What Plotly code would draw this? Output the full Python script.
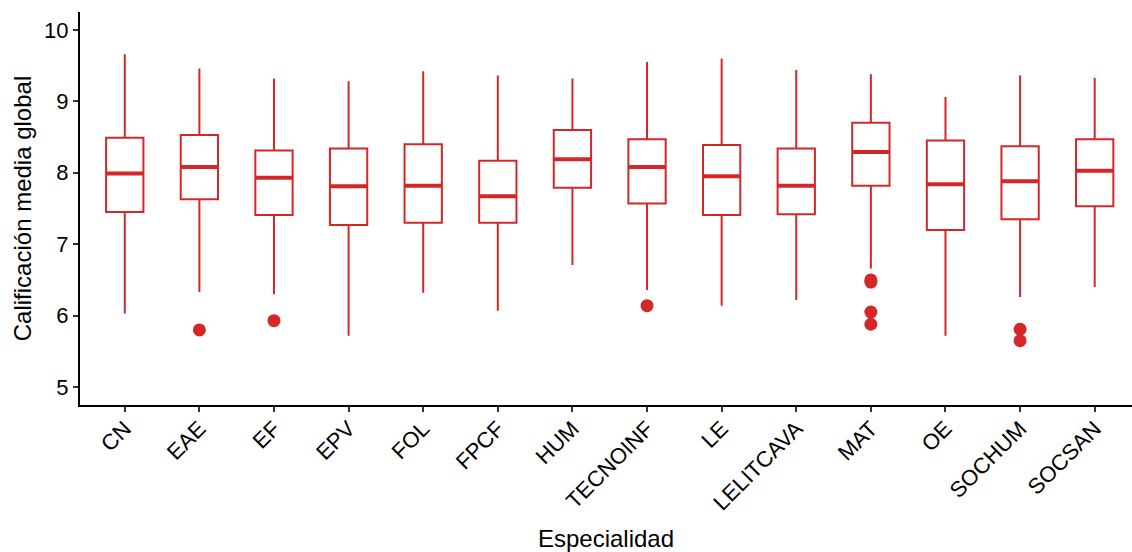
import plotly.graph_objects as go

categories = ["CN", "EAE", "EF", "EPV", "FOL", "FPCF", "HUM", "TECNOINF",
              "LE", "LELITCAVA", "MAT", "OE", "SOCHUM", "SOCSAN"]
lower_whisker = [6.03, 6.33, 6.30, 5.72, 6.32, 6.07, 6.71, 6.36, 6.14, 6.22, 6.66, 5.72, 6.26, 6.40]
q1 = [7.45, 7.63, 7.41, 7.27, 7.30, 7.30, 7.79, 7.57, 7.41, 7.42, 7.82, 7.20, 7.35, 7.53]
median = [7.99, 8.08, 7.93, 7.81, 7.82, 7.67, 8.19, 8.08, 7.95, 7.82, 8.29, 7.84, 7.88, 8.03]
q3 = [8.49, 8.53, 8.31, 8.34, 8.40, 8.17, 8.60, 8.47, 8.39, 8.34, 8.70, 8.45, 8.37, 8.47]
upper_whisker = [9.66, 9.46, 9.32, 9.28, 9.42, 9.36, 9.32, 9.55, 9.60, 9.44, 9.38, 9.06, 9.36, 9.33]

outlier_cat = ["EAE", "EF", "TECNOINF", "MAT", "MAT", "MAT", "MAT", "SOCHUM", "SOCHUM"]
outlier_val = [5.80, 5.93, 6.14, 6.50, 6.47, 6.05, 5.88, 5.81, 5.65]

RED = "#D62728"
FONT = "Liberation Sans, Arial, sans-serif"

fig = go.Figure()
fig.add_trace(go.Box(
    x=categories, q1=q1, median=median, q3=q3,
    lowerfence=lower_whisker, upperfence=upper_whisker,
    width=0.5, whiskerwidth=0, fillcolor="white",
    line=dict(color=RED, width=2), boxpoints=False, hoverinfo="skip",
))
# thicker median bar (ggplot fatten)
fig.add_trace(go.Box(
    x=categories, q1=median, median=median, q3=median,
    lowerfence=median, upperfence=median,
    width=0.5, whiskerwidth=0, fillcolor="rgba(0,0,0,0)",
    line=dict(color=RED, width=4), boxpoints=False, hoverinfo="skip",
))
fig.add_trace(go.Scatter(
    x=outlier_cat, y=outlier_val, mode="markers",
    marker=dict(color=RED, size=13), hoverinfo="skip",
))

fig.update_layout(
    width=1132, height=552, showlegend=False,
    paper_bgcolor="white", plot_bgcolor="white",
    margin=dict(l=80, r=0, t=12, b=147),
    font=dict(family=FONT, color="black", size=22),
)
fig.update_xaxes(
    type="category", categoryorder="array", categoryarray=categories,
    range=[-0.6, 13.5], showline=True, linecolor="black", linewidth=2,
    ticks="outside", ticklen=5, tickcolor="#333333", tickwidth=1.5,
    tickangle=-45, tickfont=dict(size=22, color="black"), showgrid=False,
    ticklabelstandoff=-5,
    automargin=False,
    title=dict(text="Especialidad", font=dict(size=24), standoff=40),
)
fig.update_yaxes(
    range=[4.75, 10.25], tickvals=[5, 6, 7, 8, 9, 10],
    showline=True, linecolor="black", linewidth=2,
    ticks="outside", ticklen=5, tickcolor="#333333", tickwidth=1.5,
    tickfont=dict(size=22, color="black"), showgrid=False, zeroline=False,
    automargin=False,
    title=dict(text="Calificación media global", font=dict(size=24), standoff=6),
)

fig.write_html(
    "out.html",
    config={"displayModeBar": False},
    post_script="document.body.style.margin='0';document.body.style.padding='0';"
                "document.body.style.overflow='hidden';",
)
